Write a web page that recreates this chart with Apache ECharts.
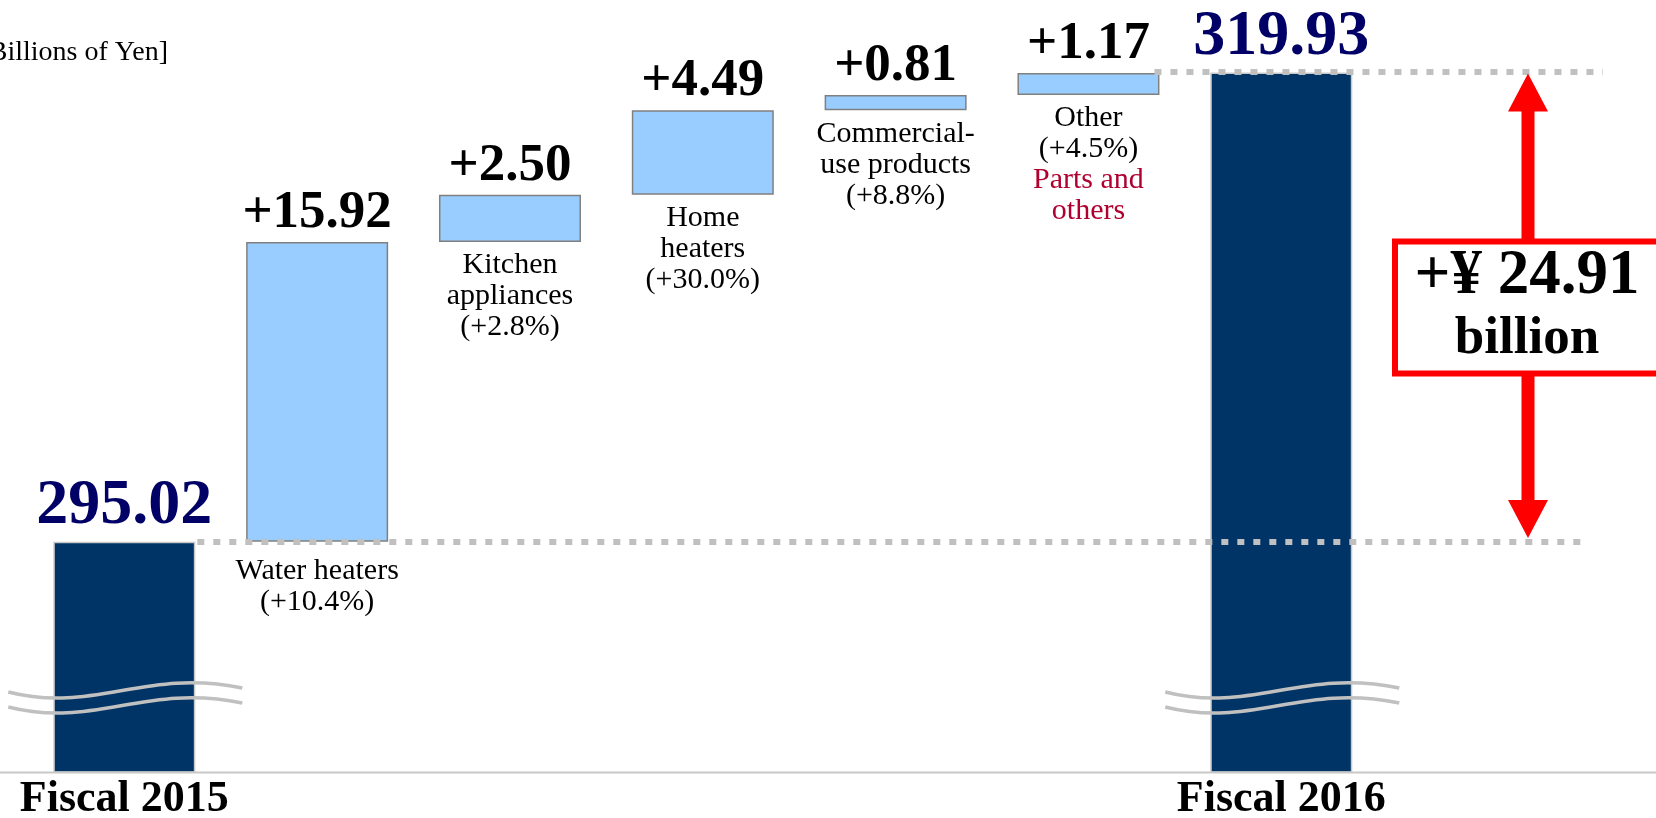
<!DOCTYPE html>
<html><head><meta charset="utf-8">
<script src="https://cdn.jsdelivr.net/npm/echarts@6/dist/echarts.min.js"></script>
<style>html,body{margin:0;padding:0;background:#fff}#c{width:1656px;height:818px}</style>
</head><body><div id="c"></div>
<script>
// ---- data ----
const categories = ['Fiscal 2015','Water heaters','Kitchen appliances','Home heaters','Commercial-use products','Other','Fiscal 2016'];
const totals = [295.02, null, null, null, null, null, 319.93];
const changes = [null, 15.92, 2.50, 4.49, 0.81, 1.17, null];
const segmentNames = ['', 'Water heaters', 'Kitchen\nappliances', 'Home\nheaters', 'Commercial-\nuse products', 'Other', ''];
const segmentPct = ['', '(+10.4%)', '(+2.8%)', '(+30.0%)', '(+8.8%)', '(+4.5%)', ''];
const segmentNotes = ['', '', '', '', '', 'Parts and\nothers', ''];
const totalChangeText = '+\u00A5 24.91';
const totalChangeUnit = 'billion';
const unitText = '[Billions of Yen]';

// ---- build ----
const SERIF = '"Liberation Serif","Times New Roman",serif';
const yMin = 282.8, yMax = 322;
const base = [];
let running = totals[0];
for (let i = 0; i < categories.length; i++) {
  if (totals[i] != null) { base.push(totals[i]); }
  else { base.push(+running.toFixed(2)); running += changes[i]; }
}

function segLabel(i) {
  const lines = [];
  segmentNames[i].split('\n').forEach(s => lines.push('{n|' + s + '}'));
  lines.push('{n|' + segmentPct[i] + '}');
  if (segmentNotes[i]) segmentNotes[i].split('\n').forEach(s => lines.push('{r|' + s + '}'));
  return lines.join('\n');
}

const baseData = base.map((v, i) => {
  if (totals[i] != null) {
    return {
      value: v,
      itemStyle: { color: '#003366', borderColor: '#c8c8c8', borderWidth: 1.5 },
      label: { show: true, position: 'top', distance: 3, formatter: totals[i].toFixed(2),
               color: '#000066', fontSize: 64, fontWeight: 'bold', fontFamily: SERIF }
    };
  }
  return {
    value: v,
    itemStyle: { color: 'rgba(0,0,0,0)', borderWidth: 0 },
    label: { show: true, position: 'insideTop', distance: i === 1 ? 14 : 8,
             formatter: segLabel(i), textBorderWidth: 0, color: '#000',
             rich: {
               n: { fontSize: 30, lineHeight: 31, color: '#000', fontFamily: SERIF, align: 'center' },
               r: { fontSize: 30, lineHeight: 31, color: '#b00030', fontFamily: SERIF, align: 'center' }
             } }
  };
});

const chart = echarts.init(document.getElementById('c'), null, { renderer: 'canvas' });
chart.setOption({
  animation: false,
  backgroundColor: '#fff',
  grid: { left: 27.9, right: 278.3, top: 33.6, bottom: 46, containLabel: false, outerBoundsMode: 'none' },
  xAxis: {
    type: 'category', data: categories,
    axisLine: { show: false }, axisTick: { show: false }, splitLine: { show: false },
    axisLabel: { interval: 0, margin: 6, color: '#000', fontSize: 44, fontWeight: 'bold', fontFamily: SERIF,
                 formatter: (v, i) => (totals[i] != null ? v : '') }
  },
  yAxis: {
    type: 'value', min: yMin, max: yMax, show: false,
    splitLine: { show: false }
  },
  series: [
    { type: 'bar', name: 'base', stack: 'w', barWidth: 142, data: baseData, silent: true },
    { type: 'bar', name: 'change', stack: 'w', barWidth: 142,
      data: changes.map(v => (v == null ? '-' : v)),
      itemStyle: { color: '#99ccff', borderColor: '#808080', borderWidth: 1.5 },
      label: { show: true, position: 'top', distance: 2, color: '#000', fontSize: 53, fontWeight: 'bold',
               fontFamily: SERIF, formatter: p => '+' + Number(p.value).toFixed(2) } }
  ]
});

// ---- decorations anchored to the axes ----
const px = (i, v) => chart.convertToPixel({ xAxisIndex: 0, yAxisIndex: 0 }, [i, v]);
const yBottom = px(0, yMin)[1];
const yStart = Math.round(px(0, totals[0])[1]);
const yEnd = Math.round(px(6, totals[6])[1]);
const cx0 = px(0, yMin)[0], cx5 = px(5, yMin)[0], cx6 = px(6, yMin)[0];
const arrowX = 1528;
const dotted = { stroke: '#c0c0c0', lineWidth: 6, lineDash: [7, 9], lineCap: 'butt' };
const breakStyle = { stroke: '#c0c0c0', lineWidth: 3.5, fill: null };
function breakCurve(cx, dy) {
  return { type: 'bezierCurve', z: 100, silent: true,
    shape: { x1: cx - 116, y1: yBottom - 80 + dy, cpx1: cx - 30, cpy1: yBottom - 58 + dy,
             cpx2: cx + 20, cpy2: yBottom - 104 + dy, x2: cx + 118, y2: yBottom - 84 + dy },
    style: breakStyle };
}
const tT = yEnd + 0.5, tB = yStart - 4, hh = 38, hw = 20, sw = 6.5;
const arrowPts = [[arrowX, tT], [arrowX + hw, tT + hh], [arrowX + sw, tT + hh], [arrowX + sw, tB - hh],
  [arrowX + hw, tB - hh], [arrowX, tB], [arrowX - hw, tB - hh], [arrowX - sw, tB - hh],
  [arrowX - sw, tT + hh], [arrowX - hw, tT + hh]];

chart.setOption({
  graphic: [
    { type: 'line', z: 50, silent: true, shape: { x1: 0, y1: yBottom + 0.5, x2: 1656, y2: yBottom + 0.5 },
      style: { stroke: '#c8c8c8', lineWidth: 2 } },
    { type: 'text', z: 50, silent: true, x: 168, y: 53,
      style: { text: unitText, fill: '#000', font: '28px ' + SERIF, align: 'right', verticalAlign: 'middle' } },
    { type: 'line', z: 100, silent: true, shape: { x1: cx0 + 73, y1: yStart, x2: 1581, y2: yStart }, style: dotted },
    { type: 'line', z: 100, silent: true, shape: { x1: cx5 + 66, y1: yEnd - 1, x2: 1603, y2: yEnd - 1 }, style: dotted },
    breakCurve(cx0, 0), breakCurve(cx0, 15), breakCurve(cx6, 0), breakCurve(cx6, 15),
    { type: 'polygon', z: 100, silent: true, shape: { points: arrowPts }, style: { fill: '#ff0000' } },
    { type: 'rect', z: 110, silent: true, shape: { x: 1395, y: 241.6, width: 275, height: 131.8 },
      style: { fill: '#fff', stroke: '#ff0000', lineWidth: 6 } },
    { type: 'text', z: 120, silent: true, x: 1527, y: 277,
      style: { text: totalChangeText, fill: '#000', font: 'bold 63px ' + SERIF, align: 'center', verticalAlign: 'middle' } },
    { type: 'text', z: 120, silent: true, x: 1527, y: 339.5,
      style: { text: totalChangeUnit, fill: '#000', font: 'bold 53px ' + SERIF, align: 'center', verticalAlign: 'middle' } }
  ]
});
</script></body></html>
